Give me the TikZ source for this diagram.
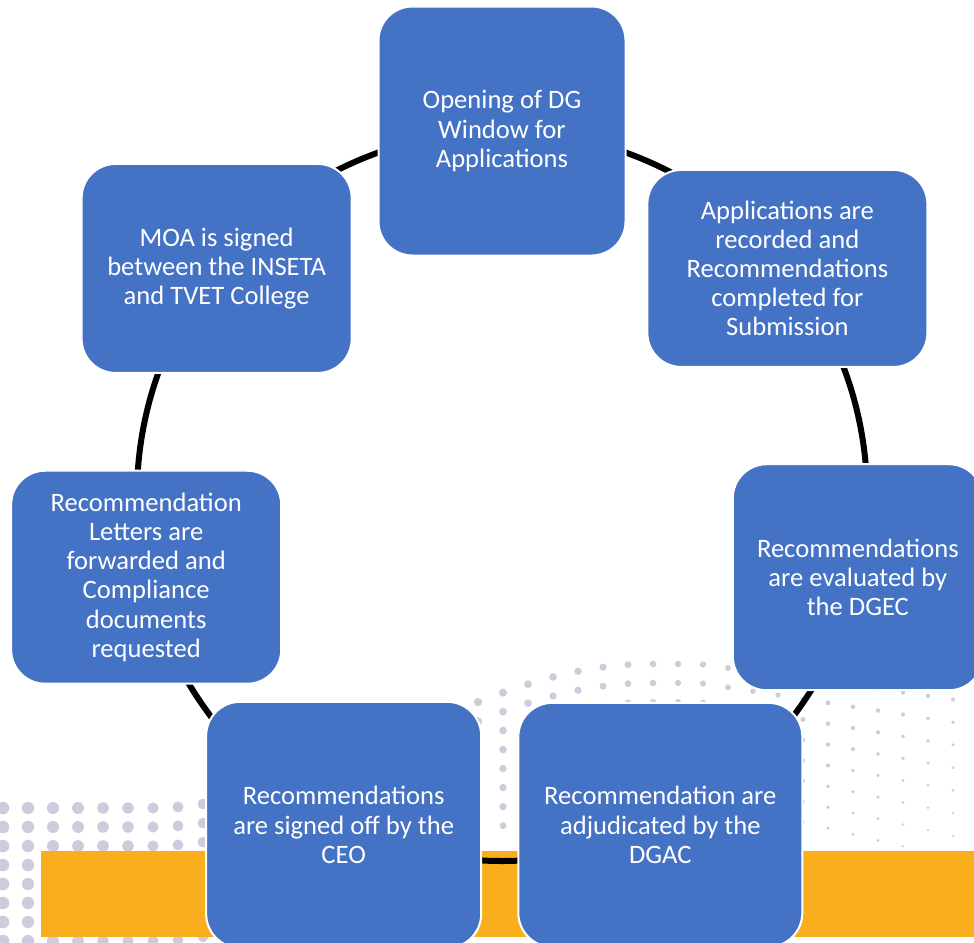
\documentclass[tikz,border=0pt]{standalone}
\usepackage{fontspec}
\setmainfont{Carlito}
\usetikzlibrary{backgrounds}
\definecolor{boxblue}{HTML}{4472C4}
\definecolor{bandorange}{HTML}{F9AE1D}
\definecolor{dotgrey}{HTML}{CFCBDD}

\begin{document}
\begin{tikzpicture}[x=0.5pt,y=-0.5pt,
    stage/.style={draw=white, line width=1pt, fill=boxblue, rounded corners=17pt,
        text=white, align=center, inner sep=2pt,
        font=\fontsize{13.3}{14.6}\selectfont},
    link/.style={line width=3pt, black}]

        % page
        \useasboundingbox (0,0) rectangle (974,942);

        \begin{pgfonlayer}{background}
        \fill[white] (0,0) rectangle (974,942);

        % dotted swoosh
        \foreach \u in {0,...,39}{
            \foreach \v in {0,...,7}{
                \pgfmathsetmacro\px{3+25*\u}
                \pgfmathsetmacro\rowtop{\px<150 ? 808 : (\px<650 ? 808-72*(1-cos(0.36*(\px-150))) : (\px<700 ? 664 : 664+0.14*(\px-700)))}
                \pgfmathsetmacro\gap{\px>700 ? 19+0.0148*(\px-700) : 19}
                \pgfmathsetmacro\py{\rowtop+\v*\gap}
                \pgfmathsetmacro\dotr{max(0.8, 6.3-0.0045*\px-0.00015*\v*\px)}
                \fill[dotgrey] (\px,\py) circle[radius=\dotr];
            }
        }

        % orange band
        \fill[bandorange] (41,851) rectangle (974,937);
        \end{pgfonlayer}

        \clip (0,0) rectangle (974,942);

        % cycle centre
        \coordinate (hub) at (502,496);

        % Opening of DG window
        \node[stage, minimum width=123.5pt, minimum height=124.5pt] (open)
            at ([shift={(-90:365)}]hub) {Opening of DG\\Window for\\Applications};

        % Applications recorded
        \node[stage, minimum width=140pt, minimum height=98.5pt] (apps)
            at ([shift={(-38.57:365)}]hub) {Applications are\\recorded and\\Recommendations\\completed for\\Submission};

        % DGEC evaluation
        \node[stage, minimum width=125pt, minimum height=113pt] (evalu)
            at ([shift={(12.86:365)}]hub) {Recommendations\\are evaluated by\\the DGEC};

        % DGAC adjudication
        \node[stage, minimum width=142pt, minimum height=122pt] (adjud)
            at ([shift={(64.29:365)}]hub) {Recommendation are\\adjudicated by the\\DGAC};

        % CEO sign off
        \node[stage, minimum width=137.5pt, minimum height=123pt] (signoff)
            at ([shift={(115.71:365)}]hub) {Recommendations\\are signed off by the\\CEO};

        % Letters and compliance
        \node[stage, minimum width=135pt, minimum height=106.5pt] (letters)
            at ([shift={(167.14:365)}]hub) {Recommendation\\Letters are\\forwarded and\\Compliance\\documents\\requested};

        % MOA
        \node[stage, minimum width=135pt, minimum height=104.5pt] (moa)
            at ([shift={(218.57:365)}]hub) {MOA is signed\\between the INSETA\\and TVET College};

        % arcs behind the boxes
        \begin{pgfonlayer}{background}
        \foreach \src/\dst in {open/apps, apps/evalu, evalu/adjud, adjud/signoff,
                signoff/letters, letters/moa, moa/open}
            \draw[link] (\src.center) to[bend left=25.71, looseness=0.9] (\dst.center);
        \end{pgfonlayer}

\end{tikzpicture}
\end{document}
